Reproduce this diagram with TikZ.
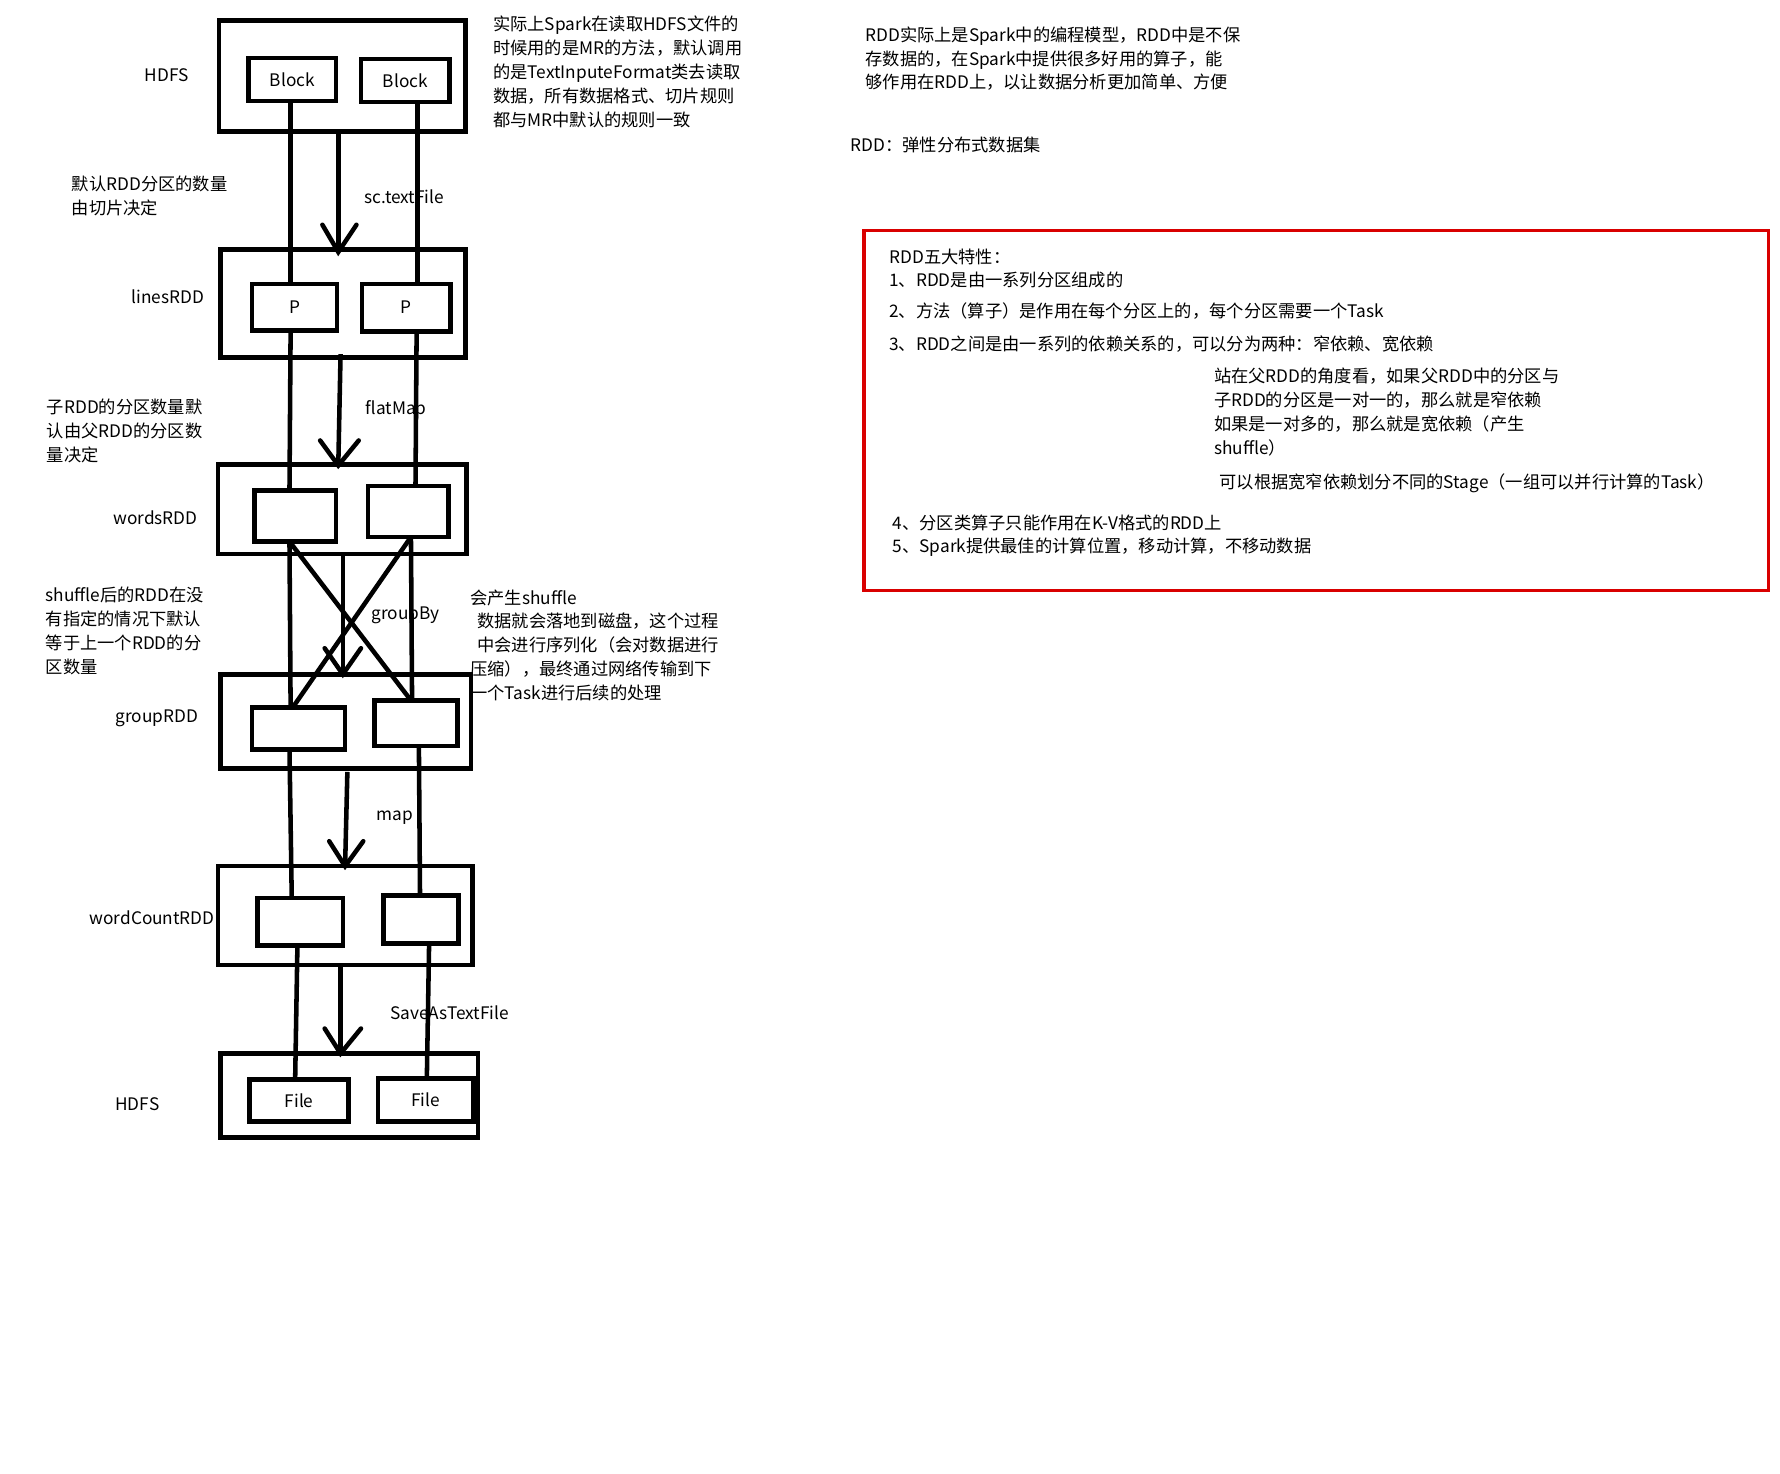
\documentclass[tikz,border=0pt]{standalone}
\usepackage{fontspec}
\setmainfont{Noto Sans CJK SC}
\begin{document}
\begin{tikzpicture}[x=0.5pt,y=-0.5pt,
  bx/.style={draw,line width=2pt},
  ln/.style={line width=2pt},
  txt/.style={font=\fontsize{7.6}{10.5}\selectfont,inner sep=0pt,align=left},
  hd/.style={line width=2pt,line cap=round}]
\useasboundingbox[fill=white] (0,0) rectangle (1568,1298);
% boxes
\draw[bx] (193,18) rectangle (410,116);
\draw[bx] (219,51) rectangle (296,89) node[midway,txt] (b1) {Block};
\draw[bx] (318,52) rectangle (396,90) node[midway,txt] (b2) {Block};
\draw[bx] (194,220) rectangle (410,315);
\draw[bx] (222,250) rectangle (297,291) node[midway,txt] (p1) {P};
\draw[bx] (319,250) rectangle (397,292) node[midway,txt] (p2) {P};
\draw[bx] (192,409) rectangle (411,488);
\draw[bx] (224,432) rectangle (296,477);
\draw[bx] (324,428) rectangle (395,473);
\draw[bx] (194,594) rectangle (415,677);
\draw[bx] (222,623) rectangle (304,660);
\draw[bx] (330,617) rectangle (403,657);
\draw[bx] (192,763) rectangle (416,850);
\draw[bx] (227,791) rectangle (302,833);
\draw[bx] (338,789) rectangle (404,831);
\draw[bx] (194,928) rectangle (421,1002);
\draw[bx] (220,951) rectangle (307,988) node[midway,txt] (f1) {File};
\draw[bx] (333,950) rectangle (417,988) node[midway,txt] (f2) {File};
% lines
\draw[ln] (256,89) -- (256,250);
\draw[ln] (368,90) -- (368,250);
\draw[ln] (256,291) -- (255,432);
\draw[ln] (367,292) -- (366,428);
\draw[ln] (255,477) -- (256,623);
\draw[ln] (362,473) -- (363,617);
\draw[ln] (255,477) -- (362,617);
\draw[ln] (362,473) -- (258,623);
\draw[ln] (255,660) -- (257,791);
\draw[ln] (369,657) -- (370,789);
\draw[ln] (262,833) -- (260,951);
\draw[ln] (378,831) -- (376,950);
% arrows
\draw[ln] (298,118) -- (298,222); \draw[hd] (284,198) -- (298,222) -- (314,198);
\draw[ln] (300,312) -- (298,410); \draw[hd] (282,388) -- (298,410) -- (316,388);
\draw[ln] (302,488) -- (302,594); \draw[hd] (286,571) -- (302,594) -- (318,571);
\draw[ln] (306,680) -- (304,763); \draw[hd] (290,741) -- (304,763) -- (320,741);
\draw[ln] (300,852) -- (300,928); \draw[hd] (286,906) -- (300,928) -- (318,906);
% labels
\node[txt] (l1) at (147,66) {HDFS};
\node[txt] (l2) at (148,261) {linesRDD};
\node[txt] (l3) at (137,456) {wordsRDD};
\node[txt] (l4) at (138,633) {groupRDD};
\node[txt] (l5) at (134,808) {wordCountRDD};
\node[txt] (l6) at (121,973) {HDFS};
\node[txt] (e1) at (356,173) {sc.textFile};
\node[txt] (e2) at (349,361) {flatMap};
\node[txt] (e3) at (357,542) {groupBy};
\node[txt] (e4) at (348,720) {map};
\node[txt] (e5) at (396,892) {SaveAsTextFile};
\node[txt,anchor=north west] (n1) at (434,14) {实际上Spark在读取HDFS文件的\\时候用的是MR的方法，默认调用\\的是TextInputeFormat类去读取\\数据，所有数据格式、切片规则\\都与MR中默认的规则一致};
\node[txt,anchor=north west] (n2) at (63,155) {默认RDD分区的数量\\由切片决定};
\node[txt,anchor=north west] (n3) at (41,351) {子RDD的分区数量默\\认由父RDD的分区数\\量决定};
\node[txt,anchor=north west] (n4) at (40,517) {shuffle后的RDD在没\\有指定的情况下默认\\等于上一个RDD的分\\区数量};
\node[txt,anchor=north west] (n5) at (414,519) {会产生shuffle\\\hspace*{3pt}数据就会落地到磁盘，这个过程\\\hspace*{3pt}中会进行序列化（会对数据进行\\压缩），最终通过网络传输到下\\一个Task进行后续的处理};
\node[txt,anchor=north west] (n6) at (762,23) {RDD实际上是Spark中的编程模型，RDD中是不保\\存数据的，在Spark中提供很多好用的算子，能\\够作用在RDD上，以让数据分析更加简单、方便};
\node[txt,anchor=west] (n7) at (749,128) {RDD：弹性分布式数据集};
% red box
\draw[red!85!black,line width=1.6pt] (761,203) rectangle (1558,520);
\node[txt,anchor=west] (r0) at (783,226) {RDD五大特性：};
\node[txt,anchor=west] (r1) at (783,247) {1、RDD是由一系列分区组成的};
\node[txt,anchor=west] (r2) at (783,274) {2、方法（算子）是作用在每个分区上的，每个分区需要一个Task};
\node[txt,anchor=west] (r3) at (783,303) {3、RDD之间是由一系列的依赖关系的，可以分为两种：窄依赖、宽依赖};
\node[txt,anchor=north west] (r4) at (1069,324) {站在父RDD的角度看，如果父RDD中的分区与\\子RDD的分区是一对一的，那么就是窄依赖\\如果是一对多的，那么就是宽依赖（产生\\shuffle）};
\node[txt,anchor=west] (r5) at (1074,426) {可以根据宽窄依赖划分不同的Stage（一组可以并行计算的Task）};
\node[txt,anchor=west] (r6) at (786,461) {4、分区类算子只能作用在K-V格式的RDD上};
\node[txt,anchor=west] (r7) at (786,482) {5、Spark提供最佳的计算位置，移动计算，不移动数据};
\end{tikzpicture}
\end{document}
